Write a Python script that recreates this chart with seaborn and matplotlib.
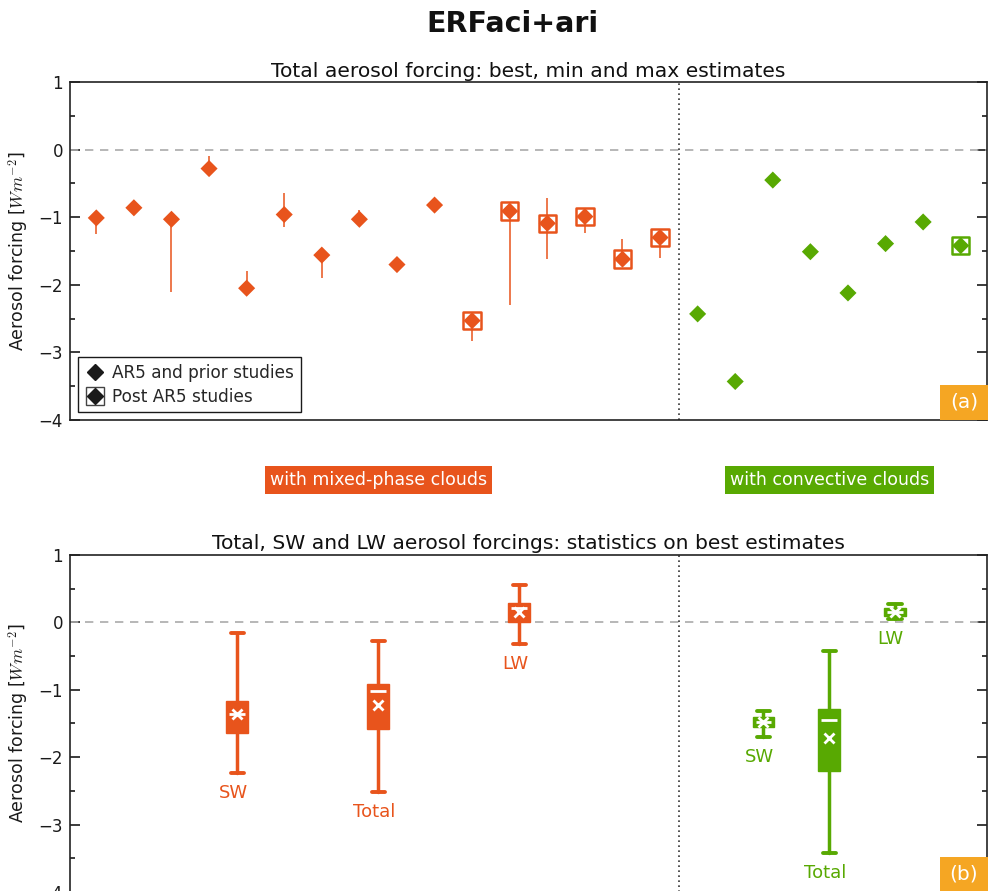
import numpy as np
import pandas as pd
import matplotlib
matplotlib.use("Agg")
import matplotlib.pyplot as plt
import seaborn as sns
from matplotlib.lines import Line2D
from matplotlib.patches import Rectangle
from matplotlib.transforms import blended_transform_factory
from matplotlib.ticker import MultipleLocator

# ---------------- data ----------------
groups = ["mixed"] * 16 + ["convective"] * 8
study = ["AR5"] * 10 + ["Post"] * 6 + ["AR5"] * 7 + ["Post"]
best = [-1.01, -0.86, -1.03, -0.28, -2.05, -0.96, -1.56, -1.03, -1.70, -0.82,
        -2.53, -0.91, -1.09, -0.99, -1.62, -1.30,
        -2.43, -3.43, -0.45, -1.51, -2.12, -1.39, -1.07, -1.42]
low = [-1.25, np.nan, -2.10, -0.28, -2.05, -1.14, -1.90, -1.03, np.nan, np.nan,
       -2.83, -2.30, -1.62, -1.24, -1.62, -1.60,
       np.nan, np.nan, np.nan, np.nan, np.nan, np.nan, np.nan, np.nan]
high = [-1.01, np.nan, -1.03, -0.09, -1.80, -0.64, -1.56, -0.89, np.nan, np.nan,
        -2.53, -0.91, -0.72, -0.99, -1.32, -1.30,
        np.nan, np.nan, np.nan, np.nan, np.nan, np.nan, np.nan, np.nan]

group_names = ["mixed", "convective"]
group_labels = ["with mixed-phase clouds", "with convective clouds"]
stat_names = ["SW", "Total", "LW"]

# box statistics on best estimates, order: SW, Total, LW
mixed_whislo = [-2.23, -2.52, -0.32]
mixed_q1 = [-1.64, -1.58, 0.00]
mixed_med = [-1.36, -1.02, 0.22]
mixed_q3 = [-1.16, -0.92, 0.29]
mixed_whishi = [-0.15, -0.27, 0.55]
mixed_mean = [-1.36, -1.22, 0.16]

conv_whislo = [-1.70, -3.42, 0.05]
conv_q1 = [-1.55, -2.20, 0.10]
conv_med = [-1.48, -1.45, 0.16]
conv_q3 = [-1.41, -1.28, 0.22]
conv_whishi = [-1.31, -0.43, 0.27]
conv_mean = [-1.48, -1.71, 0.16]

colors = {"mixed": "#E8541C", "convective": "#58A902"}
label_color = "#F5A623"

# ---------------- style ----------------
sns.set_theme(style="white")
plt.rcParams["font.family"] = ["DejaVu Sans"]
plt.rcParams["mathtext.fontset"] = "cm"

fig = plt.figure(figsize=(9.9, 8.91), dpi=100)
ax1 = fig.add_axes([0.0707, 0.5286, 0.9263, 0.3793])
ax2 = fig.add_axes([0.0707, -0.0011, 0.9263, 0.3782])

df = pd.DataFrame(dict(pos=np.arange(1, len(best) + 1), best=best, low=low,
                       high=high, group=groups, study=study))


def style_axes(ax):
    ax.set_xlim(0.3, 24.7)
    ax.set_ylim(-4, 1)
    ax.yaxis.set_major_locator(MultipleLocator(1))
    ax.yaxis.set_minor_locator(MultipleLocator(0.5))
    ax.tick_params(axis="y", which="both", direction="in", left=True, right=True,
                   labelsize=12, width=1.2, colors="#1a1a1a", pad=5)
    ax.tick_params(axis="y", which="major", length=7)
    ax.tick_params(axis="y", which="minor", length=3.5)
    ax.tick_params(axis="x", which="both", bottom=False, labelbottom=False)
    for sp in ax.spines.values():
        sp.set_visible(True)
        sp.set_linewidth(1.2)
        sp.set_color("#222222")
    ax.axhline(0, color="#AAAAAA", lw=1.2, dashes=(5, 4), zorder=1)
    ax.axvline(16.5, color="#333333", ls=(0, (1, 2)), lw=1.2, zorder=1)
    ax.set_xlabel("")
    ax.set_ylabel(r"Aerosol forcing [$Wm^{-2}$]", fontsize=12.5, color="#1a1a1a")
    ax.yaxis.set_label_coords(-0.043, 0.5)


# ---------------- panel (a) ----------------
ax1.vlines(df["pos"], df["low"], df["high"], colors=df["group"].map(colors),
           lw=1.3, alpha=0.85, zorder=2)
post = df[df["study"] == "Post"]
sns.scatterplot(data=post, x="pos", y="best", hue="group", palette=colors,
                marker="s", s=12.5 ** 2, legend=False, ax=ax1, zorder=3)
sq = ax1.collections[-1]
fc = sq.get_facecolors()
sq.set_facecolor("none")
sq.set_edgecolor(fc)
sq.set_linewidth(1.8)
sns.scatterplot(data=df, x="pos", y="best", hue="group", palette=colors,
                marker="D", s=8.7 ** 2, linewidth=0, legend=False, ax=ax1, zorder=4)
style_axes(ax1)
ax1.set_title("Total aerosol forcing: best, min and max estimates", fontsize=14.6,
              pad=4, color="#111111")

handles = [Line2D([], [], marker="D", color="k", ls="none", ms=8.5),
           (Line2D([], [], marker="s", mfc="none", mec="#444444", mew=1, ms=13, ls="none"),
            Line2D([], [], marker="D", color="k", ls="none", ms=8.5))]
leg = ax1.legend(handles, ["AR5 and prior studies", "Post AR5 studies"], loc="lower left",
                 fontsize=12.2, frameon=True, fancybox=False, edgecolor="k", framealpha=1,
                 borderaxespad=0.45, handlelength=1.3, handletextpad=0.35, borderpad=0.4,
                 labelspacing=0.35)
leg.get_frame().set_linewidth(1)

# group labels between the panels
trans = blended_transform_factory(ax1.transData, fig.transFigure)
for g, lab in zip(group_names, group_labels):
    pos_g = df.loc[df["group"] == g, "pos"]
    center = (pos_g.min() + pos_g.max()) / 2
    ax1.text(center, 0.4613, lab, transform=trans, ha="center", va="center",
             color="white", fontsize=12.5,
             bbox=dict(boxstyle="square,pad=0.28", fc=colors[g], ec="none"))

# ---------------- panel (b) ----------------
stats_by_group = {
    "mixed": (mixed_whislo, mixed_q1, mixed_med, mixed_q3, mixed_whishi, mixed_mean),
    "convective": (conv_whislo, conv_q1, conv_med, conv_q3, conv_whishi, conv_mean),
}
for g in group_names:
    c = colors[g]
    pos_g = df.loc[df["group"] == g, "pos"]
    a, b = pos_g.min(), pos_g.max()
    positions = [a + (b - a) * k / 4 for k in (1, 2, 3)]
    wl, q1, md, q3, wh, mn = stats_by_group[g]
    bstats = [dict(whislo=wl[i], q1=q1[i], med=md[i], q3=q3[i], whishi=wh[i],
                   mean=mn[i], fliers=[], label=stat_names[i]) for i in range(3)]
    res = ax2.bxp(bstats, positions=positions, widths=0.58, capwidths=0.35,
                  patch_artist=True, showmeans=True, showfliers=False,
                  manage_ticks=False,
                  boxprops=dict(facecolor=c, edgecolor=c, linewidth=1),
                  whiskerprops=dict(color=c, linewidth=2.5),
                  capprops=dict(color=c, linewidth=2.8),
                  medianprops=dict(color="white", linewidth=2),
                  meanprops=dict(marker="x", markeredgecolor="white",
                                 markerfacecolor="white", markersize=7,
                                 markeredgewidth=2))
    for line, p in zip(res["medians"], positions):
        line.set_xdata([p - 0.21, p + 0.21])
    for i, p in enumerate(positions):
        ax2.annotate(stat_names[i], xy=(p, wl[i]), xytext=(-3, -14.5),
                     textcoords="offset points", ha="center", va="center",
                     color=c, fontsize=13)

style_axes(ax2)
ax2.set_title("Total, SW and LW aerosol forcings: statistics on best estimates",
              fontsize=14.6, pad=4, color="#111111")

# panel letters
for ax, letter in ((ax1, "(a)"), (ax2, "(b)")):
    ax.add_patch(Rectangle((0.9487, 0), 0.0524, 0.104, transform=ax.transAxes,
                           fc=label_color, ec="none", clip_on=False, zorder=6))
    ax.text(0.9749, 0.052, letter, transform=ax.transAxes, ha="center", va="center",
            color="white", fontsize=14.5, zorder=7)

fig.text(0.518, 0.973, "ERFaci+ari", ha="center", va="center", fontsize=20.5,
         fontweight="bold", color="#111111")

fig.savefig("out.png", dpi=100)
